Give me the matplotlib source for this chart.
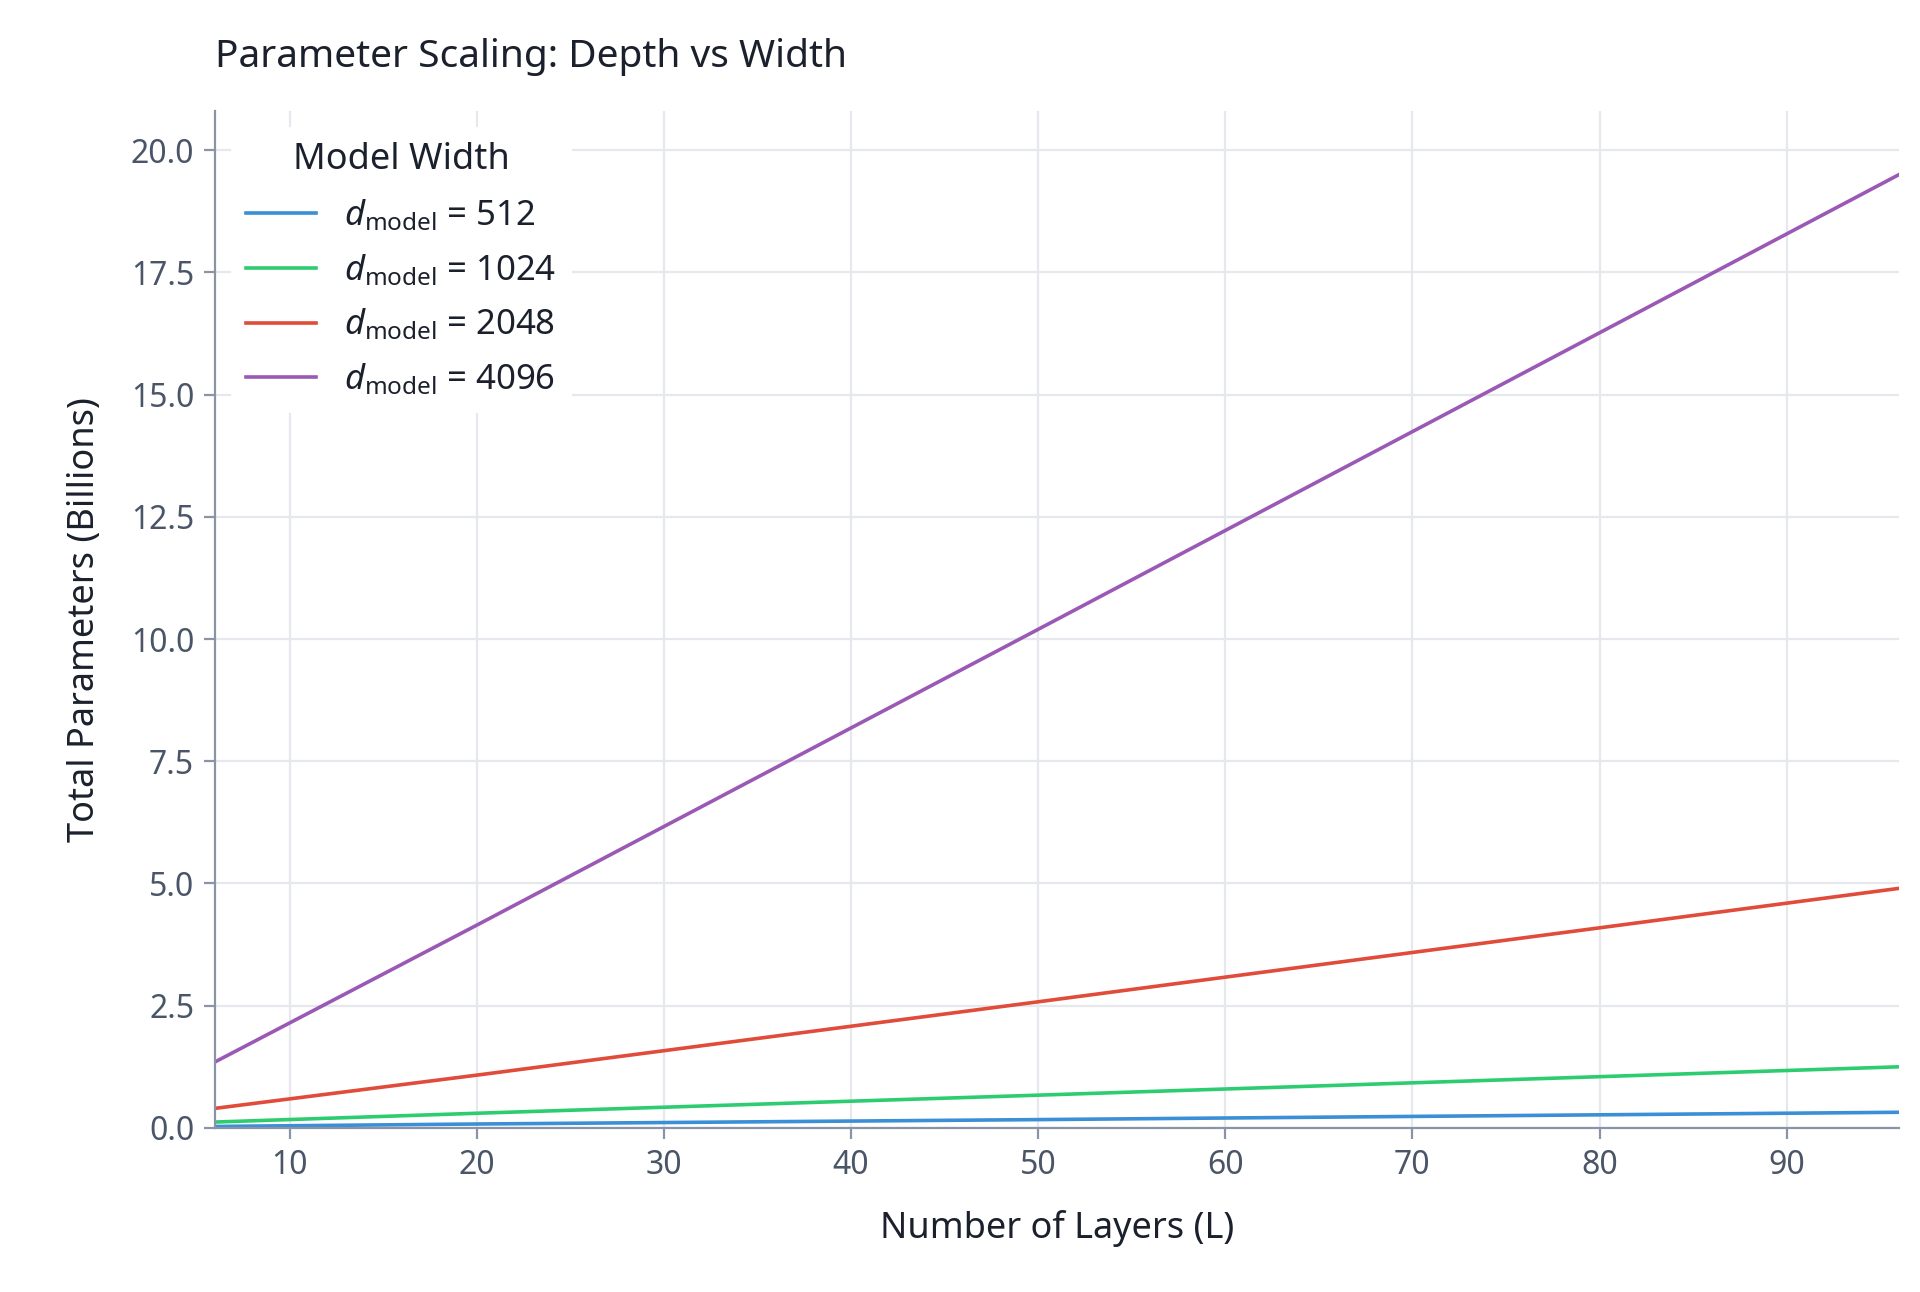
import numpy as np
import matplotlib.pyplot as plt

plt.rcParams['font.family'] = ['Noto Sans', 'DejaVu Sans']
plt.rcParams['mathtext.fontset'] = 'custom'
plt.rcParams['mathtext.rm'] = 'Noto Sans'
plt.rcParams['mathtext.it'] = 'Noto Sans:italic'

# values (billions of params) at a few layer counts
layers = [6, 20, 50, 96]
widths = ['512', '1024', '2048', '4096']
params_512 = [0.03, 0.08, 0.17, 0.32]
params_1024 = [0.12, 0.30, 0.67, 1.25]
params_2048 = [0.40, 1.08, 2.58, 4.90]
params_4096 = [1.35, 4.15, 10.2, 19.5]
series = [params_512, params_1024, params_2048, params_4096]
colors = ['#3a8fd6', '#2ecc71', '#e04b3a', '#9b59b6']

fig = plt.figure(figsize=(9.6, 6.46), dpi=200)
ax = fig.add_axes([0.112, 0.127, 0.877, 0.787])

for vals, w, c in zip(series, widths, colors):
    ax.plot(layers, vals, color=c, lw=1.3, label=r'$d_{\mathrm{model}}$ = ' + w)

ax.set_xlim(6, 96)
ax.set_ylim(0, 20.8)
ax.set_xticks(range(10, 100, 10))
ax.set_yticks(np.arange(0, 20.1, 2.5))
ax.yaxis.set_major_formatter(plt.FormatStrFormatter('%.1f'))
ax.grid(True, color='#e5e8ec', lw=0.8)
ax.set_axisbelow(True)
for s in ['top', 'right']:
    ax.spines[s].set_visible(False)
for s in ['left', 'bottom']:
    ax.spines[s].set_color('#8a94a6')
ax.tick_params(colors='#8a94a6', labelcolor='#4a5568', labelsize=11.5, length=4)

ax.set_xlabel('Number of Layers (L)', fontsize=13, color='#1a202c', labelpad=10)
ax.set_ylabel('Total Parameters (Billions)', fontsize=13, color='#1a202c', labelpad=10)
ax.set_title('Parameter Scaling: Depth vs Width', fontsize=14, color='#1a202c',
             loc='left', pad=16)

leg = ax.legend(title='Model Width', loc='upper left', fontsize=12.5,
                title_fontsize=13, frameon=True, framealpha=1,
                edgecolor='white', handlelength=2, labelspacing=0.55)
leg.get_title().set_color('#1a202c')
for t in leg.get_texts():
    t.set_color('#1a202c')

fig.savefig('out.png', dpi=200, facecolor='white')
